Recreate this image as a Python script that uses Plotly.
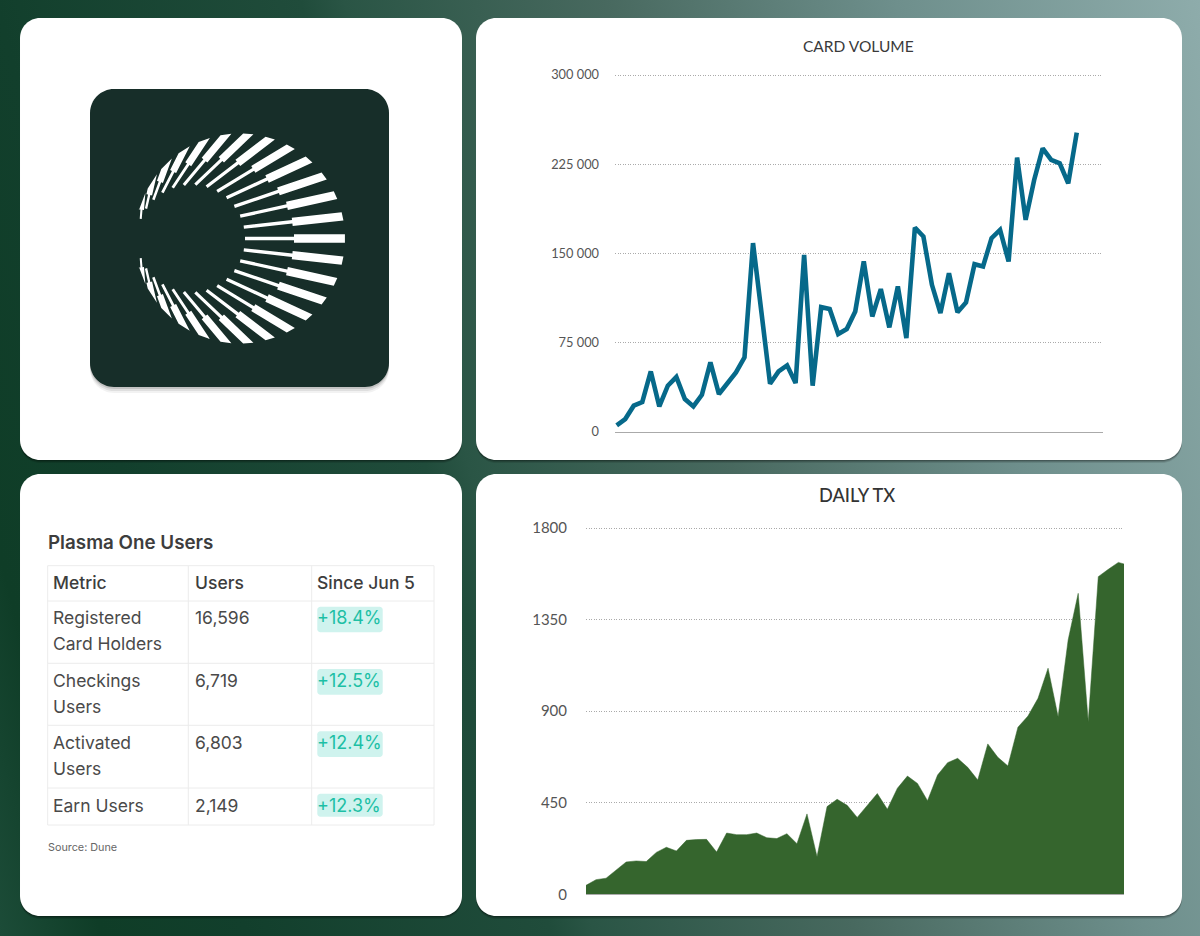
import numpy as np
import plotly.graph_objects as go

W, H = 1200, 936

card_volume = [5600, 10900, 22100, 25200, 50900, 21500, 38900, 46200, 27700, 21500, 31300,
               58500, 31900, 41700, 50100, 62700, 158700, 99900, 40600, 50900, 56000, 41100,
               148900, 38900, 104900, 103300, 82300, 86500, 101300, 143300, 97100, 120100,
               87900, 122300, 78900, 171800, 164300, 123700, 99900, 133500, 100700, 108900,
               141000, 139100, 162900, 169900, 143300, 230600, 178300, 211800, 238400,
               228600, 225800, 209000, 251600]
card_ticks = [0, 75000, 150000, 225000, 300000]
card_tick_labels = ['0', '75 000', '150 000', '225 000', '300 000']

daily_tx = [44, 72, 79, 118, 159, 164, 161, 206, 231, 213, 265, 269, 270, 208, 301, 293, 293,
            301, 278, 274, 298, 249, 395, 185, 431, 467, 437, 378, 434, 495, 418, 521, 581,
            545, 460, 586, 647, 668, 624, 562, 739, 673, 631, 821, 876, 963, 1111, 873, 1250,
            1479, 848, 1561, 1597, 1631, 1617]
tx_ticks = [0, 450, 900, 1350, 1800]

table_header = ['Metric', 'Users', 'Since Jun 5']
metrics = ['Registered<br>Card Holders', 'Checkings<br>Users', 'Activated<br>Users', 'Earn Users']
users = ['16,596', '6,719', '6,803', '2,149']
since_jun5 = ['+18.4%', '+12.5%', '+12.4%', '+12.3%']


def px(x):
    return x / W


def py(y):
    return 1 - y / H


def round_rect(x0, y0, x1, y1, r):
    # cubic corners, arcs don't scale with paper coordinates
    k = r * 0.45
    pts = [
        ('M', x0 + r, y0), ('L', x1 - r, y0),
        ('C', x1 - k, y0, x1, y0 + k, x1, y0 + r), ('L', x1, y1 - r),
        ('C', x1, y1 - k, x1 - k, y1, x1 - r, y1), ('L', x0 + r, y1),
        ('C', x0 + k, y1, x0, y1 - k, x0, y1 - r), ('L', x0, y0 + r),
        ('C', x0, y0 + k, x0 + k, y0, x0 + r, y0),
    ]
    out = ''
    for p in pts:
        nums = p[1:]
        coords = ' '.join(f'{px(nums[i]):.5f} {py(nums[i + 1]):.5f}' for i in range(0, len(nums), 2))
        out += f'{p[0]} {coords} '
    return out + 'Z'


def box(x0, y0, x1, y1, r, color):
    return dict(type='path', path=round_rect(x0, y0, x1, y1, r), xref='paper', yref='paper',
                fillcolor=color, line=dict(width=0), layer='below')


def rule(x0, y0, x1, y1):
    return dict(type='line', x0=px(x0), x1=px(x1), y0=py(y0), y1=py(y1), xref='paper', yref='paper',
                line=dict(color='#ececec', width=1), layer='below')


def to_circle(p, d, c, r):
    # slide p along d until it sits on the circle, so ray ends follow the rim
    rel = p - np.array(c)
    b = rel @ d
    return p + d * (-b + np.sqrt(max(b * b - (rel @ rel - r * r), 0)))


def logo_path():
    # rays run from a small inner circle to a big outer one
    out_c, out_r = (240, 238.5), 105
    in_c, in_r = (191, 238.5), 54
    path = ''
    for k in range(-13, 14):
        t = np.radians(k * 12.2)
        a = np.array([in_c[0] + in_r * np.cos(t), in_c[1] + in_r * np.sin(t)])
        b = np.array([out_c[0] + out_r * np.cos(t), out_c[1] + out_r * np.sin(t)])
        d = (b - a) / np.linalg.norm(b - a)
        n = np.array([-d[1], d[0]])
        scale = np.cos(t / 2) ** 0.3
        m = a + (b - a) * 0.49
        thin, thick = 1.7 * scale, 4.2 * scale
        poly = [a + n * thin, m + n * thin, m + n * thick, to_circle(b + n * thick, d, out_c, out_r),
                to_circle(b - n * thick, d, out_c, out_r), m - n * thick, m - n * thin, a - n * thin]
        path += 'M ' + ' L '.join(f'{px(q[0]):.5f} {py(q[1]):.5f}' for q in poly) + ' Z '
    return path


fig = go.Figure()

fig.add_trace(go.Scatter(x=list(range(len(card_volume))), y=card_volume, mode='lines',
                         line=dict(color='#06698a', width=4.6), xaxis='x', yaxis='y',
                         showlegend=False, hoverinfo='skip'))
fig.add_trace(go.Scatter(x=list(range(len(daily_tx))), y=daily_tx, mode='lines', fill='tozeroy',
                         fillcolor='#35652d', line=dict(color='#35652d', width=0.5),
                         xaxis='x2', yaxis='y2', showlegend=False, hoverinfo='skip'))

cards = [(20, 18, 462, 460), (476, 18, 1182, 460), (20, 474, 462, 916), (476, 474, 1182, 916)]
shapes = []
for x0, y0, x1, y1 in cards:
    for off, alpha in [(3, 0.10), (2, 0.14), (1, 0.2)]:
        shapes.append(box(x0, y0 + off, x1, y1 + off, 20, f'rgba(0,0,0,{alpha})'))
for x0, y0, x1, y1 in cards:
    shapes.append(box(x0, y0, x1, y1, 20, 'white'))
for off, alpha in [(6, 0.05), (4, 0.08), (2, 0.12)]:
    shapes.append(box(90, 89 + off, 389, 387 + off, 24, f'rgba(0,0,0,{alpha})'))
shapes.append(box(90, 89, 389, 387, 24, '#172e29'))
shapes.append(dict(type='path', path=logo_path(), xref='paper', yref='paper',
                   fillcolor='white', line=dict(width=0), layer='below'))

# table grid and highlight pills
col_x = [47.7, 188.3, 311.7, 434]
row_y = [565.7, 601, 663.3, 725.3, 788, 825]
for x in col_x:
    shapes.append(rule(x, row_y[0], x, row_y[-1]))
for y in row_y:
    shapes.append(rule(col_x[0], y, col_x[-1], y))
pill_rows = [(606.7, 632.3), (669, 694.7), (731.3, 757), (793.7, 816.7)]
for y0, y1 in pill_rows:
    shapes.append(box(317.3, y0, 382.7, y1, 3, '#cff3ee'))

annotations = [
    dict(text='CARD VOLUME', x=px(858.5), y=py(46), font=dict(family='Lato', size=15.5, color='#3a3a3a')),
    dict(text='DAILY TX', x=px(856.5), y=py(495), font=dict(family='Lato', size=18.2, color='#333333', weight=500)),
    dict(text='Plasma One Users', x=px(48), y=py(542), xanchor='left',
         font=dict(family='Inter', size=18.8, color='#3d3d3d', weight=600)),
    dict(text='Source: Dune', x=px(48), y=py(847), xanchor='left',
         font=dict(family='Inter', size=10.8, color='#666666')),
]

text_x = [53, 194.5, 317]
body_font = dict(family='Inter', size=17.5, color='#4a4a4a')
for tx, label in zip(text_x, table_header):
    annotations.append(dict(text=label, x=px(tx), y=py(582), xanchor='left',
                            font=dict(family='Inter', size=17.5, color='#3d3d3d', weight=500)))
line_y = [(617.7, 643.7), (680, 706), (742.3, 768.3), (805,)]
for rows, metric, count, change in zip(line_y, metrics, users, since_jun5):
    # each wrapped line is placed by itself, the reference leading is wider than plotly's
    for y, part in zip(rows, metric.split('<br>')):
        annotations.append(dict(text=part, x=px(text_x[0]), y=py(y), xanchor='left', font=body_font))
    annotations.append(dict(text=count, x=px(text_x[1]), y=py(rows[0]), xanchor='left', font=body_font))
    annotations.append(dict(text=change, x=px(text_x[2]), y=py(rows[0]), xanchor='left',
                            font=dict(family='Inter', size=18, color='#1dbfa5')))
for a in annotations:
    a.update(xref='paper', yref='paper', showarrow=False, yanchor='middle')
    a.setdefault('xanchor', 'center')
    if a['xanchor'] == 'left':
        a['xshift'] = -2

grid = dict(showgrid=True, gridcolor='#aaaaaa', griddash='1px,1.5px', gridwidth=1, zeroline=False,
            automargin=False)

# y ranges run 1% past the top tick, plotly drops a gridline sitting on the range end
fig.update_layout(
    width=W, height=H, margin=dict(l=0, r=0, t=0, b=0),
    paper_bgcolor='rgba(0,0,0,0)', plot_bgcolor='rgba(0,0,0,0)',
    shapes=shapes, annotations=annotations,
    xaxis=dict(domain=[px(615), px(1103)], range=[-0.2, 57.08], showticklabels=False,
               showgrid=False, zeroline=False, showline=True, linecolor='#aaaaaa',
               ticks='', anchor='y', automargin=False),
    yaxis=dict(domain=[py(432), py(71.43)], range=[0, 303000], tickvals=card_ticks,
               ticktext=card_tick_labels, ticks='', ticklabelstandoff=15, anchor='x',
               tickfont=dict(family='Lato', size=12.8, color='#555555'), **grid),
    xaxis2=dict(domain=[px(586), px(1124)], range=[0, 53.56], showticklabels=False,
                showgrid=False, zeroline=False, showline=True, linecolor='#aaaaaa',
                ticks='', anchor='y2', automargin=False),
    yaxis2=dict(domain=[py(894.3), py(524.34)], range=[0, 1818], tickvals=tx_ticks,
                ticks='', ticklabelstandoff=18, anchor='x2',
                tickfont=dict(family='Lato', size=15, color='#555555'), **grid),
)

page_style = ("document.body.style.margin='0';"
              "document.body.style.overflow='hidden';"
              "document.body.style.background='linear-gradient(75deg,#1c4c38 0%,#0f3d27 7%,#123f2c 17%,"
              "#204c3b 38%,#2a5545 41%,#48695f 59%,#6e8f8c 79%,#8eacab 100%)';"
              "document.querySelectorAll('.scatterlayer .js-line').forEach(function(p){"
              "p.style.strokeLinejoin='miter';});")
fig.write_html('out.html', post_script=page_style, config=dict(displayModeBar=False))
